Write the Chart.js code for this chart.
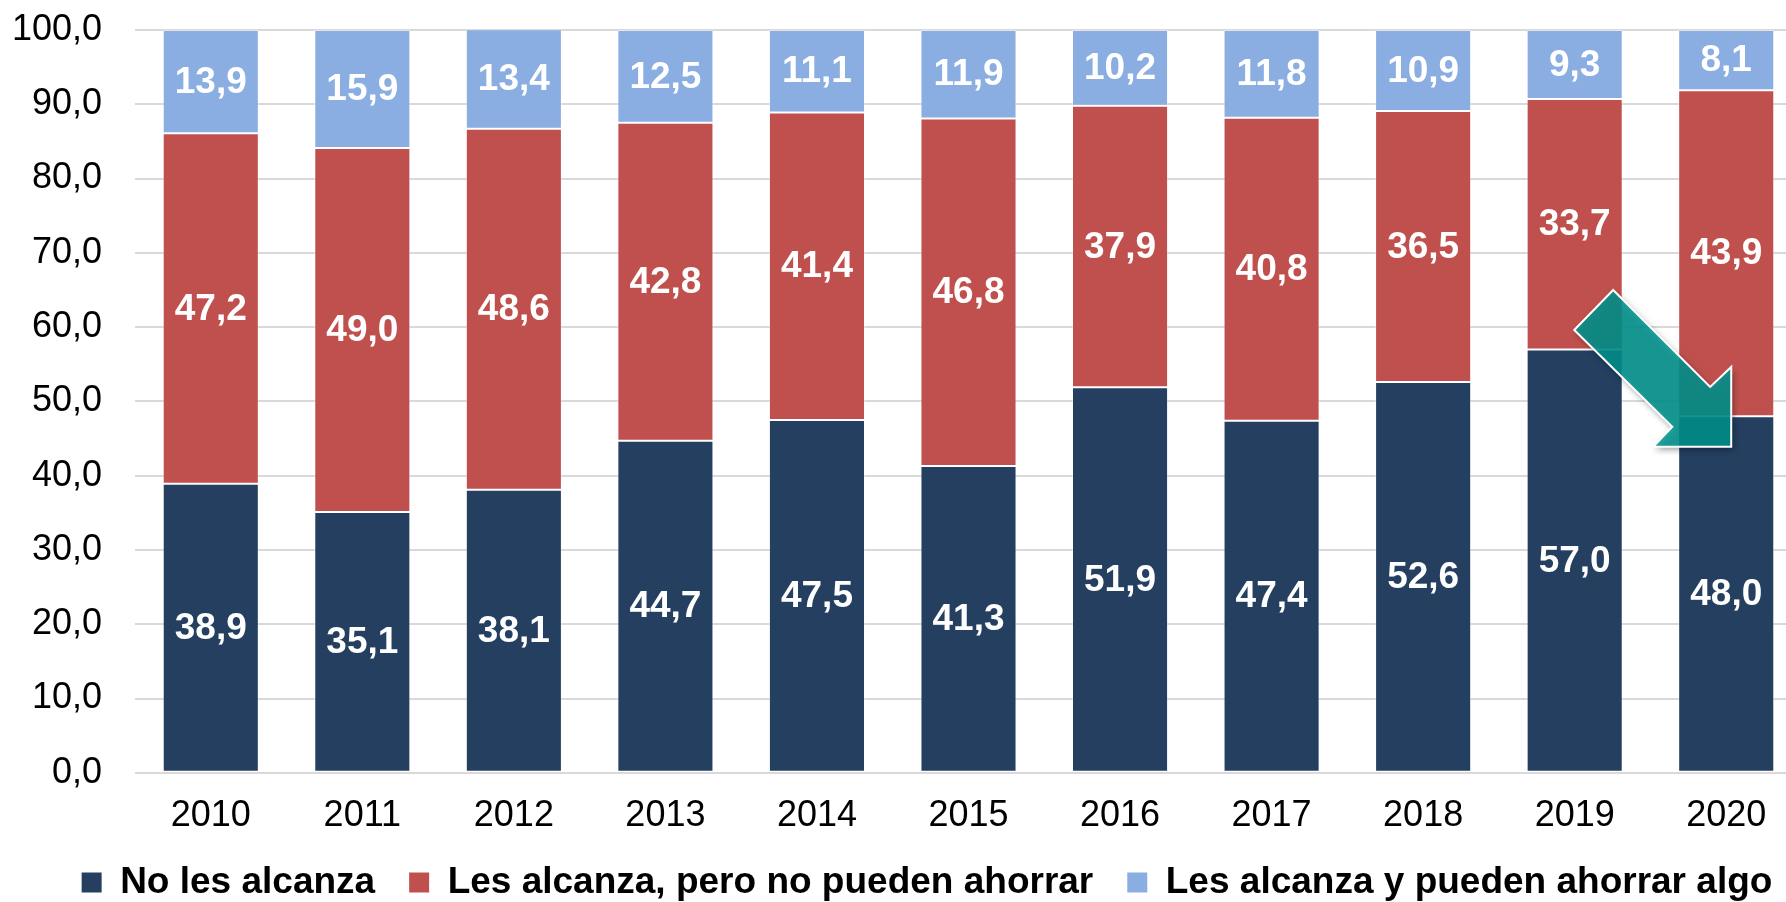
<!DOCTYPE html>
<html lang="es">
<head>
<meta charset="utf-8">
<title>Ingresos de los hogares 2010-2020</title>
<script src="https://cdn.jsdelivr.net/npm/chart.js@4.4.1/dist/chart.umd.min.js"></script>
<style>
  html, body { margin:0; padding:0; background:#fff; overflow:hidden; }
  #wrap { position:relative; width:1814px; height:941px; }
</style>
</head>
<body>
<div id="wrap"><canvas id="chart" width="1814" height="941"></canvas></div>
<script>
/* ── data ── */
var years      = ['2010','2011','2012','2013','2014','2015','2016','2017','2018','2019','2020'];
var noAlcanza  = [38.9, 35.1, 38.1, 44.7, 47.5, 41.3, 51.9, 47.4, 52.6, 57.0, 48.0];
var noAhorran  = [47.2, 49.0, 48.6, 42.8, 41.4, 46.8, 37.9, 40.8, 36.5, 33.7, 43.9];
var ahorran    = [13.9, 15.9, 13.4, 12.5, 11.1, 11.9, 10.2, 11.8, 10.9,  9.3,  8.1];
var seriesNames = ['No les alcanza', 'Les alcanza, pero no pueden ahorrar', 'Les alcanza y pueden ahorrar algo'];
var yTicks     = [0, 10, 20, 30, 40, 50, 60, 70, 80, 90, 100];

// trend arrow outline, in (category index, value) units
var arrowPts = [[9.254,65.0],[9.894,51.95],[10.033,54.64],[10.033,43.88],[9.518,43.88],[9.644,46.57],[8.997,59.62]];

var FONT = "'Liberation Sans', Arial, sans-serif";
function fmt(v){ return v.toFixed(1).replace('.', ','); }

/* ── white value labels centred in each segment ── */
var segLabels = {
  id: 'segLabels',
  afterDatasetsDraw: function(chart){
    var ctx = chart.ctx;
    ctx.save();
    ctx.fillStyle = '#fff';
    ctx.font = 'bold 37px ' + FONT;
    ctx.textAlign = 'center';
    ctx.textBaseline = 'middle';
    chart.data.datasets.forEach(function(ds, i){
      chart.getDatasetMeta(i).data.forEach(function(bar, j){
        ctx.fillText(fmt(ds.data[j]), bar.x, (bar.y + bar.base) / 2 + 1);
      });
    });
    ctx.restore();
  }
};

/* ── teal arrow 2019 -> 2020 ── */
var trendArrow = {
  id: 'trendArrow',
  afterDraw: function(chart){
    var ctx = chart.ctx, xs = chart.scales.x, ys = chart.scales.y;
    var step = xs.getPixelForValue(1) - xs.getPixelForValue(0);
    var pts = arrowPts.map(function(p){
      return [xs.getPixelForValue(0) + p[0] * step, ys.getPixelForValue(p[1])];
    });
    function path(){
      ctx.beginPath();
      pts.forEach(function(p, k){ k ? ctx.lineTo(p[0], p[1]) : ctx.moveTo(p[0], p[1]); });
      ctx.closePath();
    }
    ctx.save();
    ctx.shadowColor = 'rgba(0,0,0,0.45)';
    ctx.shadowBlur = 6; ctx.shadowOffsetX = 2; ctx.shadowOffsetY = 3;
    path();
    ctx.fillStyle = 'rgba(0,148,143,0.86)';
    ctx.fill();
    ctx.shadowColor = 'transparent';
    ctx.strokeStyle = '#fff';
    ctx.lineWidth = 2;
    path();
    ctx.stroke();
    ctx.restore();
  }
};

/* ── nudge legend: centred under the picture, a bit higher ── */
var legendNudge = {
  id: 'legendNudge',
  afterLayout: function(chart){
    var lg = chart.legend;
    if(!lg) return;
    lg.left += 26; lg.right += 26;
    lg.top -= 30;  lg.bottom -= 30;
  }
};

var colors = ['#243F60', '#C0504D', '#8AADE2'];
var values = [noAlcanza, noAhorran, ahorran];

new Chart(document.getElementById('chart').getContext('2d'), {
  type: 'bar',
  data: {
    labels: years,
    datasets: values.map(function(v, i){
      return {
        label: seriesNames[i], data: v,
        backgroundColor: colors[i],
        borderColor: 'rgba(255,255,255,0.35)', borderWidth: 1, borderSkipped: false,
        barPercentage: 0.634, categoryPercentage: 1.0
      };
    })
  },
  options: {
    responsive: false, animation: false, devicePixelRatio: 1,
    layout: { padding: { top: 30, left: 0, right: 12, bottom: 0 } },
    plugins: {
      tooltip: { enabled: false },
      legend: {
        position: 'bottom',
        labels: {
          color: '#000', boxWidth: 20, boxHeight: 20, padding: 34,
          font: { family: FONT, size: 37, weight: 'bold' },
          generateLabels: function(chart){
            return Chart.defaults.plugins.legend.labels.generateLabels(chart).map(function(l){ l.lineWidth = 0; return l; });
          }
        }
      }
    },
    scales: {
      x: {
        stacked: true,
        grid: { display: false, drawTicks: false },
        border: { display: false },
        ticks: { color: '#000', padding: 22, font: { family: FONT, size: 36 } }
      },
      y: {
        stacked: true, min: 0, max: 100,
        afterBuildTicks: function(s){ s.ticks = yTicks.map(function(v){ return { value: v }; }); },
        grid: { color: '#D9D9D9', lineWidth: 2, drawTicks: false },
        border: { display: false },
        ticks: { color: '#000', padding: 33, font: { family: FONT, size: 36 }, callback: function(v){ return fmt(v); } },
        afterFit: function(s){ s.width = 135; s.paddingTop = 0; s.paddingBottom = 0; }
      }
    }
  },
  plugins: [segLabels, trendArrow, legendNudge]
});
</script>
</body>
</html>
